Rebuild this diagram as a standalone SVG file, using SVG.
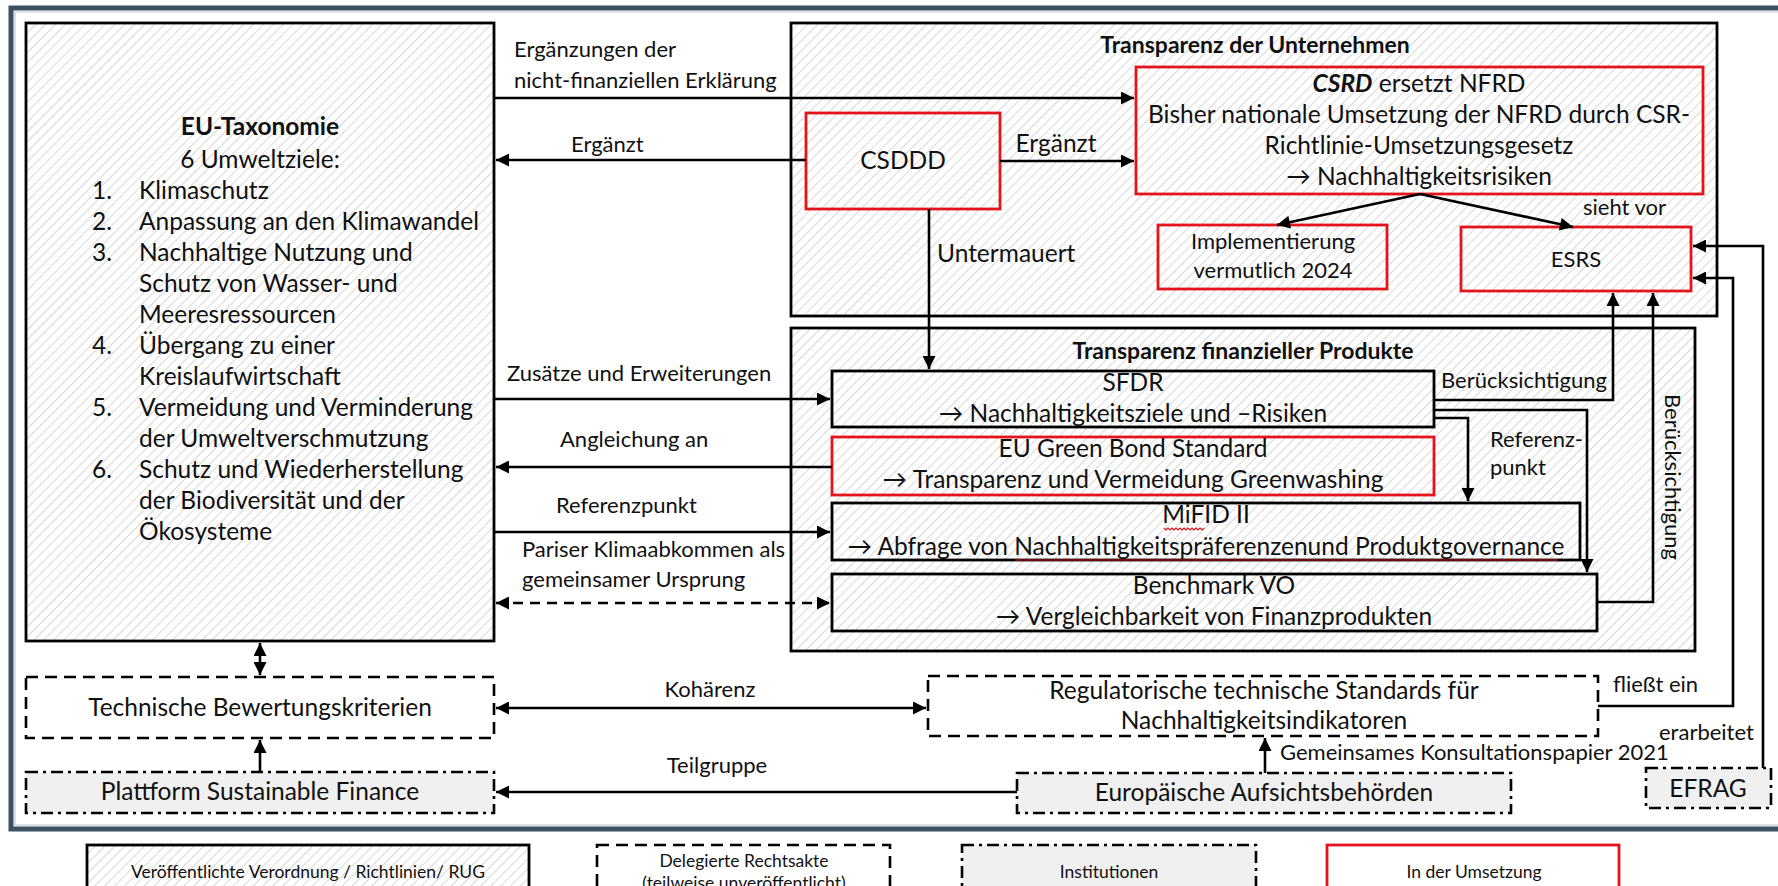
<svg xmlns="http://www.w3.org/2000/svg" width="1778" height="886" viewBox="0 0 1778 886">
<defs>
<pattern id="hatch" patternUnits="userSpaceOnUse" width="7" height="7" patternTransform="rotate(45)">
<rect width="7" height="7" fill="#ffffff"/>
<line x1="0" y1="0" x2="0" y2="7" stroke="#cfcfcf" stroke-width="1.6"/>
</pattern>
<marker id="ah" viewBox="0 0 10 10" refX="10" refY="5" markerWidth="15" markerHeight="13" markerUnits="userSpaceOnUse" orient="auto-start-reverse">
<path d="M0,0 L10,5 L0,10 z" fill="#000"/>
</marker>
<style>
text{font-family:Lato,"Liberation Sans",sans-serif;fill:#111}
.lbl{font-size:22px}
.box{font-size:24.5px}
.ttl{font-size:23px;font-weight:bold}
.leg{font-size:17.5px}
.c{text-anchor:middle}
.solid{fill:url(#hatch);stroke:#000;stroke-width:2.8}
.red{fill:url(#hatch);stroke:#e3141b;stroke-width:2.8}
.dash{fill:#fff;stroke:#000;stroke-width:2.6;stroke-dasharray:12 7}
.inst{fill:#f0f0f0;stroke:#000;stroke-width:2.6;stroke-dasharray:12 5 3 5}
.cn{fill:none;stroke:#000;stroke-width:2.6}
.sq{fill:none;stroke:#e3141b;stroke-width:1.2}
</style>
</defs>
<rect width="1778" height="886" fill="#fff"/>
<rect x="11" y="8" width="1800" height="821" fill="none" stroke="#3e5160" stroke-width="5"/>
<rect x="15" y="12" width="1800" height="813" fill="none" stroke="#b7c7d2" stroke-width="1"/>

<g id="eu-taxonomie">
<rect class="solid" x="26" y="23" width="468" height="618"/>
<text class="box c" x="260" y="135" style="font-weight:bold">EU-Taxonomie</text>
<text class="box c" x="260" y="168">6 Umweltziele:</text>
<text class="box"><tspan x="92" y="199">1.</tspan><tspan x="139" y="199">Klimaschutz</tspan>
<tspan x="92" y="230">2.</tspan><tspan x="139" y="230">Anpassung an den Klimawandel</tspan>
<tspan x="92" y="261">3.</tspan><tspan x="139" y="261">Nachhaltige Nutzung und</tspan>
<tspan x="139" y="292">Schutz von Wasser- und</tspan>
<tspan x="139" y="323">Meeresressourcen</tspan>
<tspan x="92" y="354">4.</tspan><tspan x="139" y="354">Übergang zu einer</tspan>
<tspan x="139" y="385">Kreislaufwirtschaft</tspan>
<tspan x="92" y="416">5.</tspan><tspan x="139" y="416">Vermeidung und Verminderung</tspan>
<tspan x="139" y="447">der Umweltverschmutzung</tspan>
<tspan x="92" y="478">6.</tspan><tspan x="139" y="478">Schutz und Wiederherstellung</tspan>
<tspan x="139" y="509">der Biodiversität und der</tspan>
<tspan x="139" y="540">Ökosysteme</tspan></text>
</g>

<g id="transparenz-unternehmen">
<rect class="solid" x="791" y="23" width="926" height="293"/>
<text class="ttl c" x="1255" y="53">Transparenz der Unternehmen</text>
</g>
<g id="csddd">
<rect class="red" x="806" y="113" width="194" height="96"/>
<text class="box c" x="903" y="169">CSDDD</text>
</g>
<g id="csrd">
<rect class="red" x="1136" y="67" width="567" height="127"/>
<text class="box c" x="1419" y="92"><tspan style="font-weight:bold;font-style:italic">CSRD</tspan> ersetzt NFRD</text>
<text class="box c" x="1419" y="123">Bisher nationale Umsetzung der NFRD durch CSR-</text>
<text class="box c" x="1419" y="154">Richtlinie-Umsetzungsgesetz</text>
<text class="box c" x="1419" y="185">→ Nachhaltigkeitsrisiken</text>
</g>
<g id="implementierung">
<rect class="red" x="1158" y="225" width="229" height="64"/>
<text class="box c" x="1273" y="249" style="font-size:22px">Implementierung</text>
<text class="box c" x="1273" y="278" style="font-size:22px">vermutlich 2024</text>
</g>
<g id="esrs">
<rect class="red" x="1461" y="227" width="230" height="64"/>
<text class="box c" x="1576" y="267" style="font-size:22px">ESRS</text>
</g>

<g id="transparenz-finanzprodukte">
<rect class="solid" x="791" y="328" width="904" height="323"/>
<text class="ttl c" x="1243" y="359">Transparenz finanzieller Produkte</text>
</g>
<g id="sfdr">
<rect class="solid" x="832" y="371" width="602" height="56"/>
<text class="box c" x="1133" y="391">SFDR</text>
<text class="box c" x="1133" y="422">→ Nachhaltigkeitsziele und –Risiken</text>
</g>
<g id="green-bond">
<rect class="red" x="832" y="437" width="602" height="58"/>
<text class="box c" x="1133" y="457">EU Green Bond Standard</text>
<text class="box c" x="1133" y="488">→ Transparenz und Vermeidung Greenwashing</text>
</g>
<g id="mifid">
<rect class="solid" x="832" y="503" width="748" height="57"/>
<text class="box c" x="1206" y="523">MiFID II</text>
<text class="box c" x="1206" y="555">→ Abfrage von Nachhaltigkeitspräferenzenund Produktgovernance</text>
<path class="sq" d="M1164,528 l2,2 l2,-2 l2,2 l2,-2 l2,2 l2,-2 l2,2 l2,-2 l2,2 l2,-2 l2,2 l2,-2 l2,2 l2,-2 l2,2 l2,-2 l2,2 l2,-2 l2,2 l2,-2"/>
<path class="sq" d="M1015,560 h543"/>
</g>
<g id="benchmark">
<rect class="solid" x="832" y="574" width="765" height="57"/>
<text class="box c" x="1214" y="594">Benchmark VO</text>
<text class="box c" x="1214" y="625">→ Vergleichbarkeit von Finanzprodukten</text>
</g>

<g id="technische-bewertungskriterien">
<rect class="dash" x="26" y="677" width="468" height="61"/>
<text class="box c" x="260" y="716">Technische Bewertungskriterien</text>
</g>
<g id="plattform">
<rect class="inst" x="26" y="772" width="468" height="41"/>
<text class="box c" x="260" y="800">Plattform Sustainable Finance</text>
</g>
<g id="regulatorische-standards">
<rect class="dash" x="928" y="676" width="670" height="60"/>
<text class="box c" x="1264" y="699">Regulatorische technische Standards für</text>
<text class="box c" x="1264" y="729">Nachhaltigkeitsindikatoren</text>
</g>
<g id="aufsichtsbehoerden">
<rect class="inst" x="1017" y="773" width="494" height="40"/>
<text class="box c" x="1264" y="801">Europäische Aufsichtsbehörden</text>
</g>
<g id="efrag">
<rect class="inst" x="1646" y="768" width="125" height="40"/>
<text class="box c" x="1708" y="797">EFRAG</text>
</g>

<g id="connectors">
<path class="cn" d="M494,98 H1134" marker-end="url(#ah)"/>
<path class="cn" d="M806,160 H496" marker-end="url(#ah)"/>
<path class="cn" d="M1000,161 H1134" marker-end="url(#ah)"/>
<path class="cn" d="M929,209 V369" marker-end="url(#ah)"/>
<path class="cn" d="M1420,194 L1277,225" marker-end="url(#ah)"/>
<path class="cn" d="M1420,194 L1573,227" marker-end="url(#ah)"/>
<path class="cn" d="M494,399 H830" marker-end="url(#ah)"/>
<path class="cn" d="M832,467 H496" marker-end="url(#ah)"/>
<path class="cn" d="M494,532 H830" marker-end="url(#ah)"/>
<path class="cn" d="M496,603 H830" stroke-dasharray="10 7" marker-start="url(#ah)" marker-end="url(#ah)"/>
<path class="cn" d="M1434,400 H1613 V293" marker-end="url(#ah)"/>
<path class="cn" d="M1434,410 H1587 V572" marker-end="url(#ah)"/>
<path class="cn" d="M1434,418 H1468 V501" marker-end="url(#ah)"/>
<path class="cn" d="M1597,602 H1653 V293" marker-end="url(#ah)"/>
<path class="cn" d="M1598,706 H1733 V278 H1693" marker-end="url(#ah)"/>
<path class="cn" d="M1763,768 V246 H1693" marker-end="url(#ah)"/>
<path class="cn" d="M260,643 V675" marker-start="url(#ah)" marker-end="url(#ah)"/>
<path class="cn" d="M260,772 V740" marker-end="url(#ah)"/>
<path class="cn" d="M496,708 H926" marker-start="url(#ah)" marker-end="url(#ah)"/>
<path class="cn" d="M1017,792 H496" marker-end="url(#ah)"/>
<path class="cn" d="M1265,773 V738" marker-end="url(#ah)"/>
</g>

<g id="connector-labels">
<text class="lbl" x="514" y="57">Ergänzungen der</text>
<text class="lbl" x="514" y="88">nicht-finanziellen Erklärung</text>
<text class="lbl" x="571" y="152">Ergänzt</text>
<text class="lbl c" x="1056" y="152" style="font-size:24.5px">Ergänzt</text>
<text class="lbl" x="937" y="262" style="font-size:24.5px">Untermauert</text>
<text class="lbl" x="1583" y="215">sieht vor</text>
<text class="lbl" x="507" y="381">Zusätze und Erweiterungen</text>
<text class="lbl" x="560" y="447">Angleichung an</text>
<text class="lbl" x="556" y="513">Referenzpunkt</text>
<text class="lbl" x="522" y="557">Pariser Klimaabkommen als</text>
<text class="lbl" x="522" y="587">gemeinsamer Ursprung</text>
<text class="lbl" x="1441" y="388">Berücksichtigung</text>
<text class="lbl" x="1490" y="447">Referenz-</text>
<text class="lbl" x="1490" y="475">punkt</text>
<text class="lbl c" transform="translate(1665,477) rotate(90)">Berücksichtigung</text>
<text class="lbl c" x="710" y="697">Kohärenz</text>
<text class="lbl c" x="717" y="773">Teilgruppe</text>
<text class="lbl" x="1613" y="692">fließt ein</text>
<text class="lbl" x="1659" y="740">erarbeitet</text>
<text class="lbl" x="1280" y="760">Gemeinsames Konsultationspapier 2021</text>
</g>

<g id="legend">
<rect class="solid" x="87" y="845" width="442" height="60"/>
<text class="leg c" x="308" y="878">Veröffentlichte Verordnung / Richtlinien/ RUG</text>
<rect class="dash" x="597" y="845" width="293" height="60"/>
<text class="leg c" x="744" y="867">Delegierte Rechtsakte</text>
<text class="leg c" x="744" y="889">(teilweise unveröffentlicht)</text>
<rect class="inst" x="962" y="845" width="294" height="60"/>
<text class="leg c" x="1109" y="878">Institutionen</text>
<rect class="red" x="1327" y="845" width="292" height="60" style="fill:#fff"/>
<text class="leg c" x="1474" y="878">In der Umsetzung</text>
</g>
</svg>
